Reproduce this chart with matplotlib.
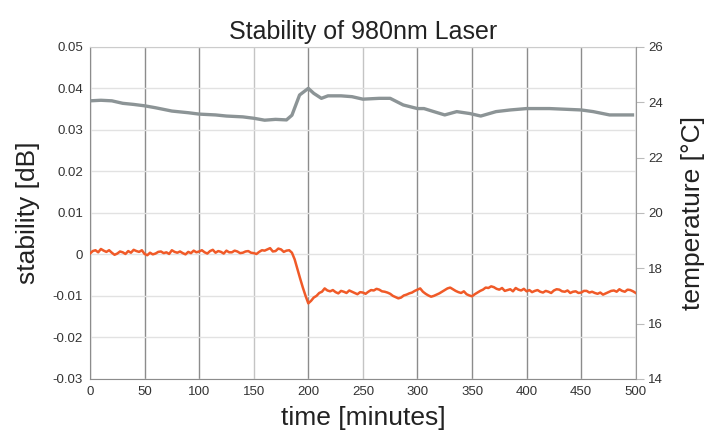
import matplotlib
matplotlib.use("Agg")
import matplotlib.pyplot as plt

plt.rcParams['font.family'] = ['Liberation Sans', 'DejaVu Sans']

# temperature (grey, right axis)
temp_t = [0, 10, 20, 30, 40, 50, 60, 75, 90, 100, 115, 125, 140, 150, 160, 170,
          180, 185, 192, 200, 205, 212, 218, 230, 240, 250, 265, 275, 287, 300,
          306, 315, 325, 336, 348, 358, 372, 385, 400, 421, 450, 461, 476, 497]
temp_c = [24.05, 24.07, 24.05, 23.96, 23.92, 23.87, 23.80, 23.68, 23.62, 23.57,
          23.54, 23.50, 23.47, 23.42, 23.35, 23.38, 23.36, 23.53, 24.26, 24.50,
          24.32, 24.14, 24.23, 24.23, 24.20, 24.11, 24.14, 24.14, 23.90, 23.77,
          23.77, 23.66, 23.54, 23.66, 23.59, 23.50, 23.66, 23.72, 23.77, 23.77,
          23.72, 23.66, 23.54, 23.54]

# stability (orange, left axis), one reading every 2.5 minutes
stab_t = [i * 2.5 for i in range(201)]
stab_db = [
    0.0002, 0.0008, 0.0010, 0.0005, 0.0013, 0.0009, 0.0006, 0.0010, 0.0004, -0.0001,
    0.0002, 0.0007, 0.0005, 0.0001, 0.0008, 0.0004, 0.0011, 0.0008, 0.0006, 0.0010,
    0.0001, -0.0002, 0.0004, 0.0000, 0.0002, 0.0006, 0.0007, 0.0003, 0.0005, 0.0001,
    0.0010, 0.0006, 0.0004, 0.0007, 0.0003, 0.0000, 0.0006, 0.0003, 0.0009, 0.0005,
    0.0007, 0.0010, 0.0005, 0.0002, 0.0008, 0.0011, 0.0004, 0.0008, 0.0006, 0.0002,
    0.0009, 0.0005, 0.0005, 0.0009, 0.0007, 0.0003, 0.0004, 0.0007, 0.0008, 0.0004,
    0.0003, 0.0001, 0.0006, 0.0010, 0.0009, 0.0012, 0.0015, 0.0007, 0.0008, 0.0014,
    0.0012, 0.0006, 0.0009, 0.0010, 0.0004, -0.0012, -0.0035, -0.0058, -0.0080, -0.0100,
    -0.0118, -0.0112, -0.0104, -0.0100, -0.0093, -0.0090, -0.0082, -0.0087, -0.0089, -0.0086,
    -0.0091, -0.0094, -0.0088, -0.0090, -0.0093, -0.0087, -0.0090, -0.0093, -0.0096, -0.0091,
    -0.0092, -0.0095, -0.0090, -0.0086, -0.0087, -0.0083, -0.0085, -0.0089, -0.0090, -0.0092,
    -0.0095, -0.0100, -0.0103, -0.0106, -0.0104, -0.0099, -0.0097, -0.0094, -0.0092, -0.0088,
    -0.0085, -0.0082, -0.0090, -0.0095, -0.0099, -0.0102, -0.0100, -0.0097, -0.0094, -0.0090,
    -0.0086, -0.0082, -0.0080, -0.0084, -0.0088, -0.0091, -0.0093, -0.0089, -0.0096, -0.0099,
    -0.0101, -0.0096, -0.0092, -0.0088, -0.0085, -0.0080, -0.0081, -0.0077, -0.0079, -0.0083,
    -0.0085, -0.0081, -0.0088, -0.0086, -0.0084, -0.0089, -0.0081, -0.0085, -0.0087, -0.0083,
    -0.0089, -0.0086, -0.0091, -0.0088, -0.0086, -0.0090, -0.0092, -0.0088, -0.0090, -0.0093,
    -0.0087, -0.0084, -0.0085, -0.0089, -0.0090, -0.0087, -0.0093, -0.0090, -0.0089, -0.0093,
    -0.0092, -0.0088, -0.0088, -0.0092, -0.0090, -0.0093, -0.0095, -0.0092, -0.0097, -0.0094,
    -0.0091, -0.0088, -0.0087, -0.0090, -0.0084, -0.0088, -0.0090, -0.0085, -0.0086, -0.0089,
    -0.0093,
]

x_ticks = list(range(0, 550, 50))
y_ticks = [-0.03, -0.02, -0.01, 0, 0.01, 0.02, 0.03, 0.04, 0.05]
y_labels = ['-0.03', '-0.02', '-0.01', '0', '0.01', '0.02', '0.03', '0.04', '0.05']
t_ticks = [14, 16, 18, 20, 22, 24, 26]

fig = plt.figure(figsize=(7.2, 4.34), dpi=100)
ax = fig.add_axes([0.125, 0.127, 0.758, 0.765])
ax2 = ax.twinx()

ax.set_xlim(0, 500)
ax.set_ylim(-0.03, 0.05)
ax.set_xticks(x_ticks)
ax.set_yticks(y_ticks)
ax.set_yticklabels(y_labels)
ax.tick_params(length=0, labelsize=9.5, colors='#333333', pad=5)

ax.yaxis.grid(True, color='#e2e2e2', lw=1)
ax.xaxis.grid(True, color='#8c8c8c', lw=1)
light = {150, 250}
for tick, gl in zip(x_ticks, ax.xaxis.get_gridlines()):
    if tick in light:
        gl.set_color('#c4c4c4')
ax.set_axisbelow(True)

for s in ['left', 'bottom']:
    ax.spines[s].set_color('#8c8c8c')
ax.spines['top'].set_color('#cccccc')
ax.spines['right'].set_visible(False)

ax.plot(stab_t, stab_db, color='#f05a28', lw=1.8, zorder=3)

ax2.set_ylim(14, 26)
ax2.set_yticks(t_ticks)
ax2.tick_params(length=6, width=0.8, color='#bbbbbb', labelsize=9.5,
                labelcolor='#333333', pad=3)
ax2.spines['right'].set_color('#999999')
for s in ['left', 'top', 'bottom']:
    ax2.spines[s].set_visible(False)
ax2.plot(temp_t, temp_c, color='#8c9496', lw=2.4, zorder=3)

ax.set_title('Stability of 980nm Laser', fontsize=18, color='#222222', pad=6)
ax.set_xlabel('time [minutes]', fontsize=19, color='#222222', labelpad=6)
ax.set_ylabel('stability [dB]', fontsize=19, color='#222222', labelpad=9)
ax2.set_ylabel('temperature [°C]', fontsize=19, color='#222222', labelpad=13)

fig.savefig('out.png', dpi=100)
